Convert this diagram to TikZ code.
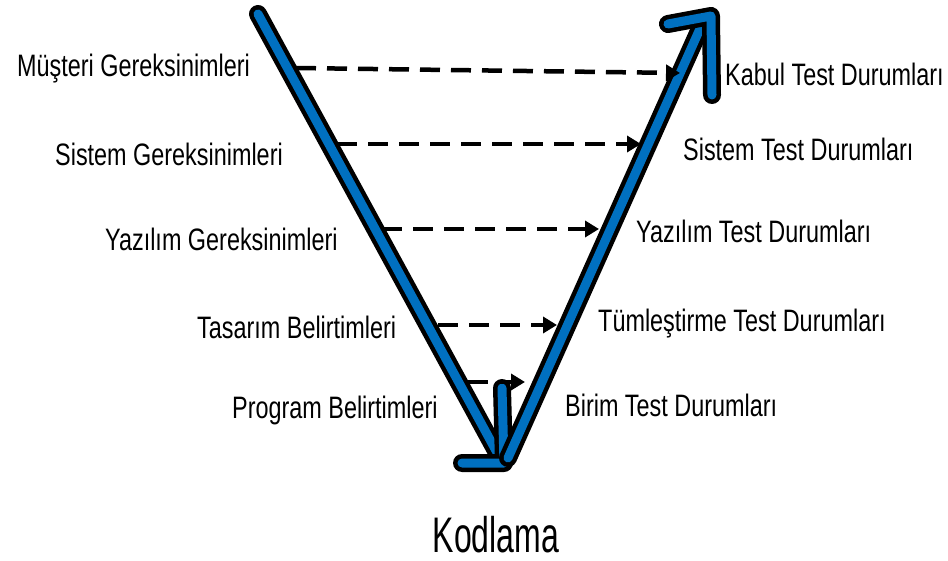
\documentclass[tikz,border=0pt]{standalone}
\usepackage{fontspec}
\setmainfont{Liberation Sans}
\usetikzlibrary{arrows.meta}
\definecolor{vblue}{RGB}{0,112,192}
\newcommand{\lbl}[1]{\scalebox{0.755}[1]{\fontsize{31}{31}\selectfont #1}}
\tikzset{
  lab/.style={inner sep=0pt, anchor=base west},
  armblack/.style={draw=black, line width=18pt, line cap=round, line join=round},
  armblue/.style={draw=vblue, line width=9pt, line cap=round, line join=round},
  dashflow/.style={draw=black, line width=4.5pt, dash pattern=on 20pt off 11pt, -{Triangle[length=14pt,width=16pt]}},
}
\begin{document}
\begin{tikzpicture}[x=1pt,y=-1pt]
\useasboundingbox (0,0) rectangle (948,561);
% labels left
\node[lab] (mg) at (17,77) {\lbl{Müşteri Gereksinimleri}};
\node[lab] (sg) at (55,166) {\lbl{Sistem Gereksinimleri}};
\node[lab] (yg) at (105,251) {\lbl{Yazılım Gereksinimleri}};
\node[lab] (tb) at (197,338) {\lbl{Tasarım Belirtimleri}};
\node[lab] (pb) at (232,418) {\lbl{Program Belirtimleri}};
% labels right
\node[lab] (kt) at (725,86) {\lbl{Kabul Test Durumları}};
\node[lab] (st) at (683,161) {\lbl{Sistem Test Durumları}};
\node[lab] (yt) at (636,243) {\lbl{Yazılım Test Durumları}};
\node[lab] (tt) at (598,331) {\lbl{Tümleştirme Test Durumları}};
\node[lab] (bt) at (565,416) {\lbl{Birim Test Durumları}};
\node[inner sep=0pt, anchor=base] (kod) at (496,552) {\scalebox{0.64}[1]{\fontsize{50}{50}\selectfont Kodlama}};
% V arms
\coordinate (ltop) at (258,14);
\coordinate (lbot) at (500,458);
\coordinate (bl) at (462,463);
\coordinate (bc) at (504,463);
\coordinate (bu) at (502,388);
\coordinate (rbot) at (508,458);
\coordinate (rtop) at (703,22);
\coordinate (tl) at (668,24);
\coordinate (tc) at (711,16);
\coordinate (td) at (712,95);
\path[armblack] (ltop) -- (lbot);
\path[armblue] (ltop) -- (lbot);
\path[armblack] (bu) -- (bc) -- (bl);
\path[armblue] (bu) -- (bc) -- (bl);
\path[armblack] (rbot) -- (rtop);
\path[armblue] (rbot) -- (rtop);
\path[armblack] (tl) -- (tc) -- (td);
\path[armblue] (tl) -- (tc) -- (td);
% dashed arrows
\coordinate (a1) at (296,68); \coordinate (b1) at (680,73);
\coordinate (a2) at (337,144); \coordinate (b2) at (641,144);
\coordinate (a3) at (382,229); \coordinate (b3) at (599,229);
\coordinate (a4) at (438,325); \coordinate (b4) at (557,325);
\coordinate (a5) at (468,382); \coordinate (b5) at (525,382);
\draw[dashflow] (a1) -- (b1);
\draw[dashflow] (a2) -- (b2);
\draw[dashflow] (a3) -- (b3);
\draw[dashflow] (a4) -- (b4);
\draw[dashflow] (a5) -- (b5);
\end{tikzpicture}
\end{document}
